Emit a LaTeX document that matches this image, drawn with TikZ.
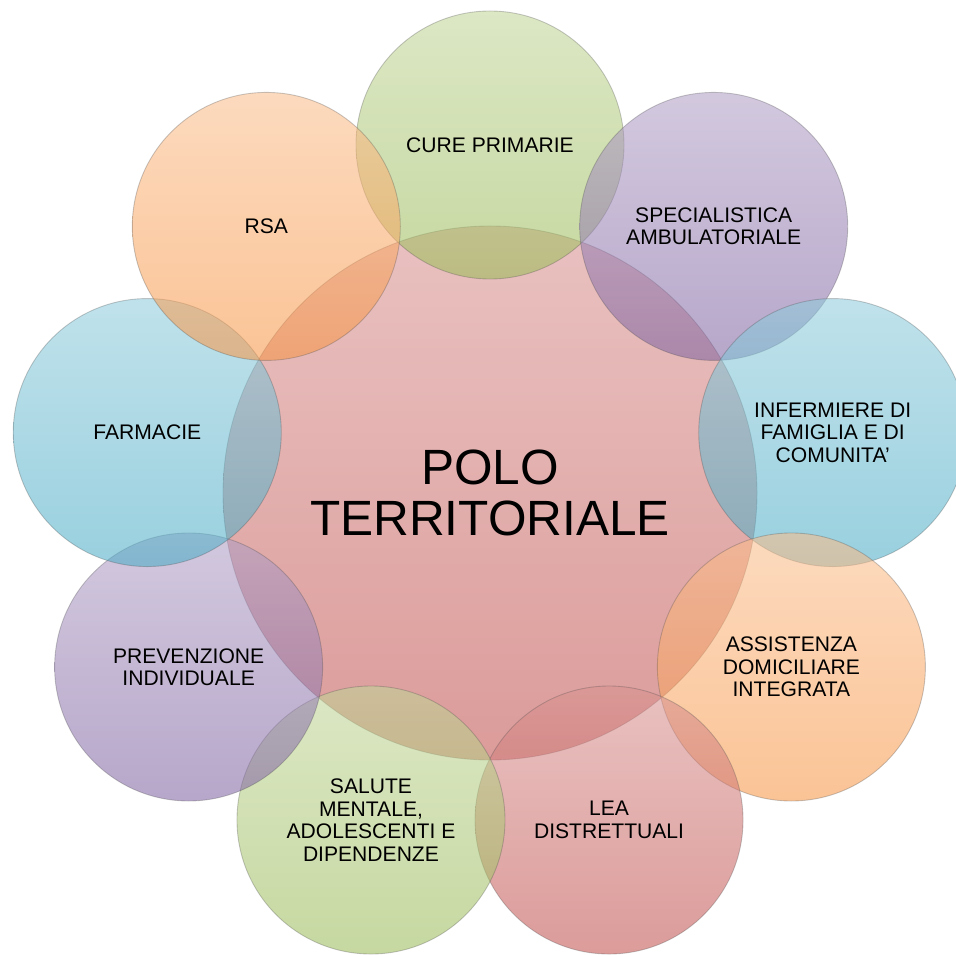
\documentclass[tikz,border=0pt]{standalone}
\usepackage{fontspec}
\setmainfont{Liberation Sans}
\usetikzlibrary{shapes,positioning,calc}

\definecolor{offred}{RGB}{192,80,77}
\definecolor{offgreen}{RGB}{155,187,89}
\definecolor{offpurple}{RGB}{128,100,162}
\definecolor{offaqua}{RGB}{75,172,198}
\definecolor{offorange}{RGB}{247,150,70}

\tikzset{
	bubble/.style={circle, minimum size=5.36cm, inner sep=0pt, align=center,
		top color=#1!62!white, bottom color=#1, fill opacity=0.57, text opacity=1,
		draw=black!70, draw opacity=0.3, line width=0.5pt,
		font=\fontsize{12}{12.8}\selectfont},
	hub/.style={bubble=offred, minimum size=10.68cm,
		font=\fontsize{28.2}{29.5}\selectfont}
}

\begin{document}
\begin{tikzpicture}
	\useasboundingbox (0,0) rectangle (19.12,19.08);
	% central pole
	\node[hub] (polo) at (9.8,9.22) {POLO\\TERRITORIALE};
	
	% services round the pole, clockwise from the top
	\node[bubble=offgreen] (cure) at ($(polo)+(90:6.96)$) {CURE PRIMARIE};
	\node[bubble=offpurple] (spec) at ($(polo)+(50:6.96)$)
	{SPECIALISTICA\\AMBULATORIALE};
	\node[bubble=offaqua] (inferm) at ($(polo)+(10:6.96)$)
	{INFERMIERE DI\\FAMIGLIA E DI\\COMUNITA’};
	\node[bubble=offorange] (adi) at ($(polo)+(-30:6.96)$)
	{ASSISTENZA\\DOMICILIARE\\INTEGRATA};
	\node[bubble=offred] (lea) at ($(polo)+(-70:6.96)$)
	{LEA\\DISTRETTUALI};
	\node[bubble=offgreen] (salute) at ($(polo)+(-110:6.96)$)
	{SALUTE\\MENTALE,\\ADOLESCENTI E\\DIPENDENZE};
	\node[bubble=offpurple] (prev) at ($(polo)+(-150:6.96)$)
	{PREVENZIONE\\INDIVIDUALE};
	\node[bubble=offaqua] (farm) at ($(polo)+(170:6.96)$) {FARMACIE};
	\node[bubble=offorange] (rsa) at ($(polo)+(130:6.96)$) {RSA};
\end{tikzpicture}
\end{document}
